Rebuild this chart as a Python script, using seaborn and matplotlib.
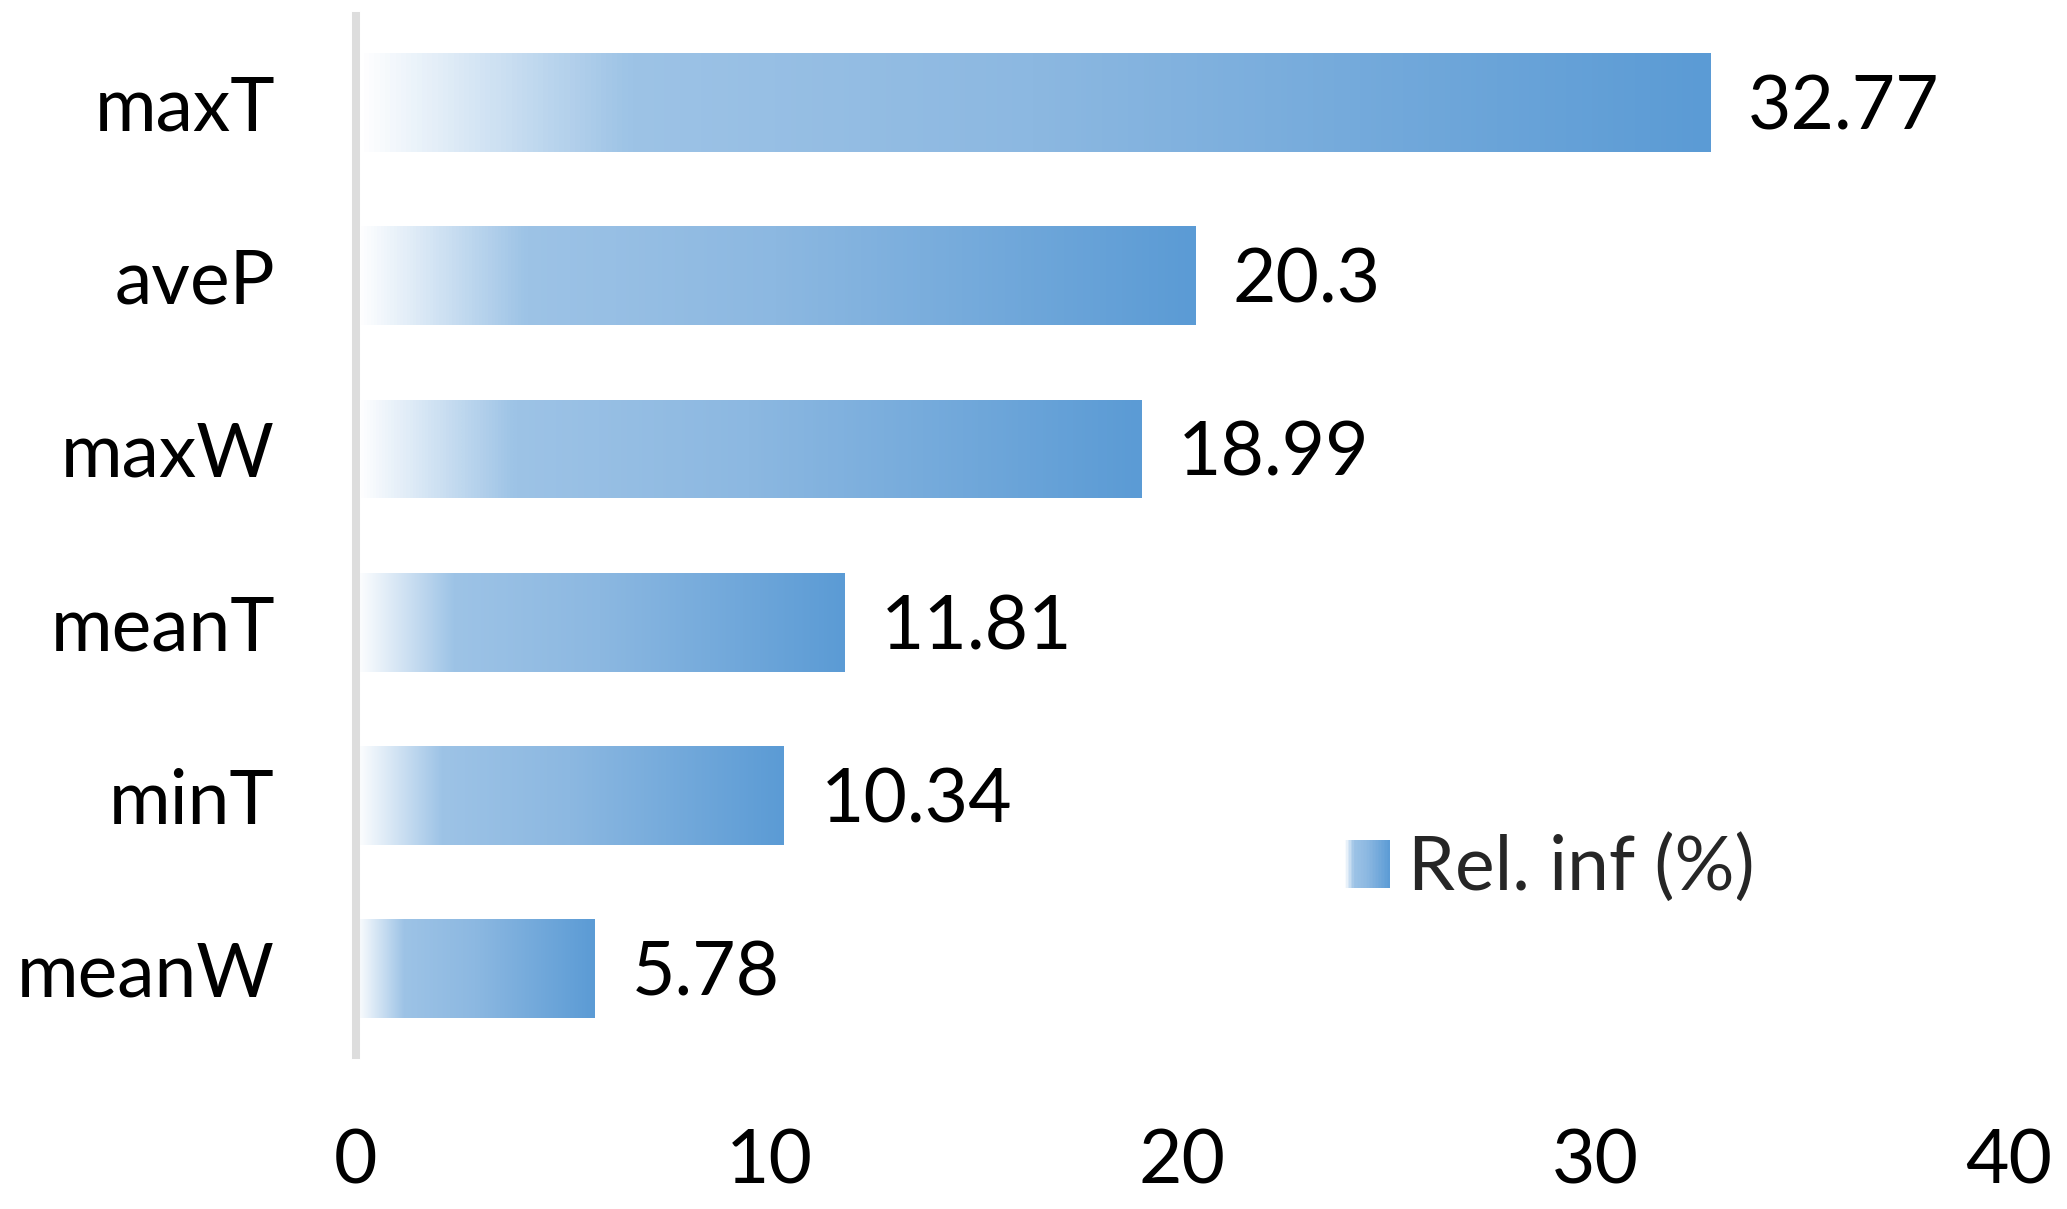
import matplotlib
matplotlib.use("Agg")
import matplotlib.pyplot as plt
import numpy as np
import pandas as pd
import seaborn as sns
from matplotlib.colors import LinearSegmentedColormap
from matplotlib.legend_handler import HandlerBase
from matplotlib.patches import Patch, Rectangle

# Data
variables = ["maxT", "aveP", "maxW", "meanT", "minT", "meanW"]
rel_inf = [32.77, 20.3, 18.99, 11.81, 10.34, 5.78]
x_ticks = [0, 10, 20, 30, 40]
legend_label = "Rel. inf (%)"

df = pd.DataFrame({"variable": variables, "rel_inf": rel_inf})

sns.set_theme(style="white")
plt.rcParams["font.family"] = ["Lato", "DejaVu Sans"]

# white -> light blue -> Excel blue gradient
grad = LinearSegmentedColormap.from_list(
    "grad", [(0.0, "#ffffff"), (0.2, "#9dc3e6"), (0.5, "#8cb8e1"), (1.0, "#5b9bd5")]
)

fig = plt.figure(figsize=(20.67, 12.09), dpi=100)
ax = fig.add_axes([0.172, 0.127, 0.8, 0.86])

sns.barplot(data=df, x="rel_inf", y="variable", orient="h",
            color="#5b9bd5", width=0.57, ax=ax)

# replace solid fill with a gradient image clipped to each bar
ramp = np.linspace(0, 1, 256).reshape(1, -1)
for bar in ax.patches:
    x0, y0 = bar.get_x(), bar.get_y()
    w, h = bar.get_width(), bar.get_height()
    bar.set_facecolor("none")
    bar.set_edgecolor("none")
    im = ax.imshow(ramp, cmap=grad, aspect="auto", interpolation="bilinear",
                   extent=[x0, x0 + w, y0 + h, y0], zorder=2)
    im.set_clip_path(bar)

# value labels, nudged a little below the bar centre like the original
for i, v in enumerate(rel_inf):
    ax.annotate(f"{v:g}", (v, i), xytext=(27, -4), textcoords="offset points",
                va="center", ha="left", fontsize=54, color="black")

ax.set_xlim(0, 40)
ax.set_ylim(5.5, -0.5)
ax.set_xticks(x_ticks)
ax.set_xlabel("")
ax.set_ylabel("")
ax.tick_params(axis="x", labelsize=54, pad=52, length=0, colors="black")
ax.tick_params(axis="y", labelsize=54, pad=58, length=0, colors="black")

for side in ["top", "right", "bottom"]:
    ax.spines[side].set_visible(False)
ax.spines["left"].set_color("#dddddd")
ax.spines["left"].set_linewidth(5.8)
ax.spines["left"].set_zorder(3)


class GradientHandler(HandlerBase):
    def create_artists(self, legend, orig_handle, xdescent, ydescent,
                       width, height, fontsize, trans):
        n = 30
        strips = []
        for i in range(n):
            c = grad((i + 0.5) / n)
            r = Rectangle((-xdescent + width * i / n, -ydescent), width / n + 0.3,
                          height, facecolor=c, edgecolor="none", transform=trans)
            strips.append(r)
        return strips


handle = Patch(label=legend_label)
ax.legend(handles=[handle], handler_map={Patch: GradientHandler()},
          loc="center left", bbox_to_anchor=(0.58, 0.18), frameon=False,
          fontsize=54, handlelength=0.6, handleheight=0.6, handletextpad=0.25,
          borderaxespad=0)

fig.savefig("out.png", dpi=100)
